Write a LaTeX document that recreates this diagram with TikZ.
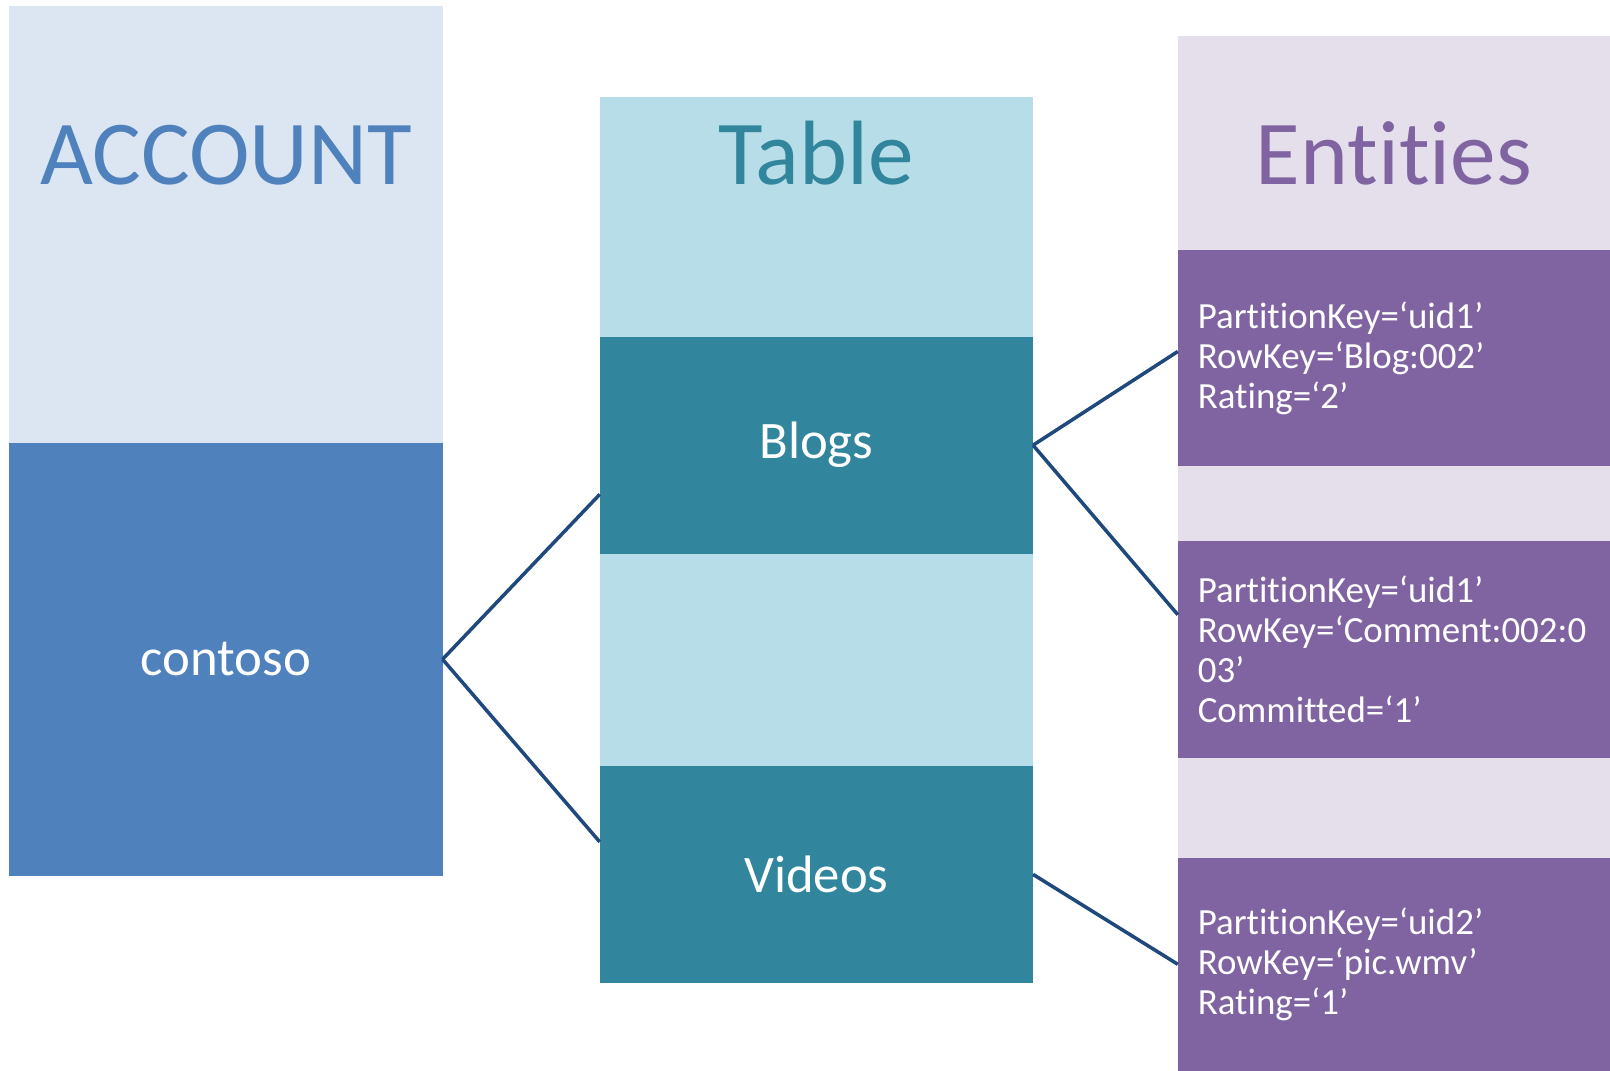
\documentclass[tikz,border=0pt]{standalone}
\usepackage{fontspec}
\setmainfont{Carlito}[Ligatures={TeX,NoCommon}]
\usetikzlibrary{positioning,calc}
\definecolor{acclight}{RGB}{220,230,242}
\definecolor{accdark}{RGB}{79,129,189}
\definecolor{tablight}{RGB}{183,222,232}
\definecolor{tabdark}{RGB}{49,133,156}
\definecolor{entlight}{RGB}{229,223,236}
\definecolor{entdark}{RGB}{128,100,162}
\definecolor{clink}{RGB}{31,73,125}

\begin{document}
\begin{tikzpicture}[
    every node/.style={inner sep=0pt, outer sep=0pt},
    coltitle/.style={anchor=base, font=\fontsize{26}{31}\selectfont},
    darkbox/.style={minimum width=4.333cm, minimum height=2.167cm, text=white,
                    font=\fontsize{15}{18}\selectfont},
    entbox/.style={fill=entdark, anchor=west, minimum height=2.168cm, inner xsep=0.2cm,
                   text width=4.1cm, align=left, text=white,
                   font=\fontsize{10.5}{11.35}\selectfont},
    link/.style={draw=clink, line width=1pt}
  ]
    \fill[white] (0,0) rectangle (16.10,10.71);
    \useasboundingbox (0,0) rectangle (16.10,10.71);

    % account column
    \node[fill=acclight, minimum width=4.334cm, minimum height=4.364cm] (acctop) at (2.259,8.466) {};
    \node[darkbox, fill=accdark, minimum height=4.334cm] (contoso) at (2.259,4.117) {contoso};
    \node[coltitle, text=accdark] (acctitle) at (2.259,8.86) {ACCOUNT};

    % table column
    \node[fill=tablight, minimum width=4.333cm, minimum height=8.852cm] (tabcol) at (8.164,5.309) {};
    \node[darkbox, fill=tabdark] (blogs) at (8.164,6.258) {Blogs};
    \node[darkbox, fill=tabdark] (videos) at (8.164,1.966) {Videos};
    \node[coltitle, text=tabdark] (tabtitle) at (8.164,8.86) {Table};

    % entities column
    \node[fill=entlight, minimum width=4.322cm, minimum height=10.35cm] (entcol) at (13.939,5.175) {};
    \node[entbox] (ent1) at (11.778,7.13)
         {PartitionKey=‘uid1’\\RowKey=‘Blog:002’\\Rating=‘2’};
    \node[entbox] (ent2) at (11.778,4.216)
         {PartitionKey=‘uid1’\\RowKey=‘Comment:002:0\\03’\\Committed=‘1’};
    \node[entbox, minimum height=2.135cm] (ent3) at (11.778,1.067)
         {PartitionKey=‘uid2’\\RowKey=‘pic.wmv’\\Rating=‘1’};
    \node[coltitle, text=entdark] (enttitle) at (13.939,8.86) {Entities};

    % links
    \draw[link] (contoso.east) -- ($(blogs.north west)!0.727!(blogs.south west)$);
    \draw[link] (contoso.east) -- ($(videos.north west)!0.35!(videos.south west)$);
    \draw[link] (blogs.east) -- ($(ent1.north west)!0.47!(ent1.south west)$);
    \draw[link] (blogs.east) -- ($(ent2.north west)!0.34!(ent2.south west)$);
    \draw[link] (videos.east) -- (ent3.west);
  \end{tikzpicture}
\end{document}
